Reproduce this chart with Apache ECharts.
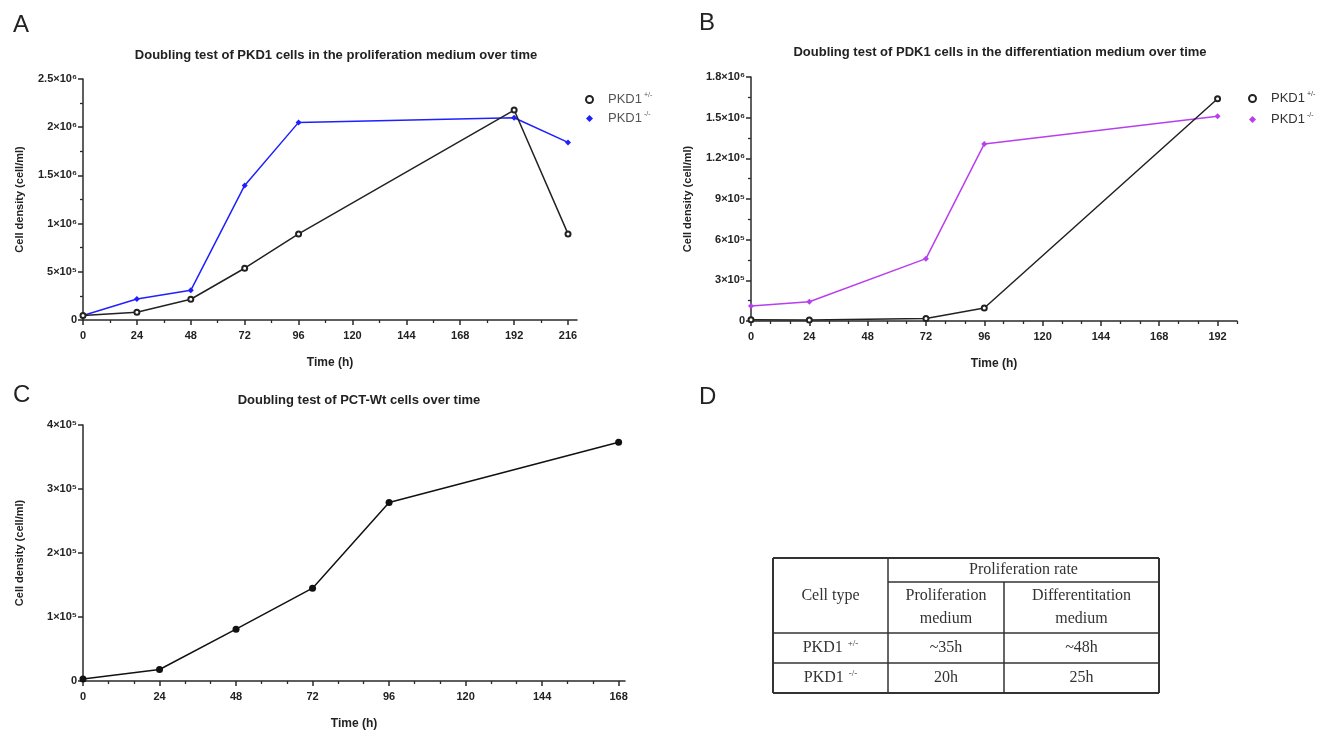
<!DOCTYPE html>
<html>
<head>
<meta charset="utf-8">
<script src="https://cdn.jsdelivr.net/npm/echarts@6/dist/echarts.min.js"></script>
<style>
html,body{margin:0;padding:0;background:#fff;}
#chart{width:1332px;height:731px;}
</style>
</head>
<body>
<div id="chart"></div>
<script>
// ---------------- DATA ----------------
// Panel A: proliferation medium
const timeA = [0, 24, 48, 72, 96, 192, 216];
const hetProlif = [46000, 80000, 215000, 537000, 893000, 2178000, 893000];
const nullProlif = [46000, 218000, 308000, 1396000, 2050000, 2098000, 1842000];
const xTicksA = [0, 24, 48, 72, 96, 120, 144, 168, 192, 216];
const yTicksA = [0, 500000, 1000000, 1500000, 2000000, 2500000];
const yLabelsA = ['0', '5×10⁵', '1×10⁶', '1.5×10⁶', '2×10⁶', '2.5×10⁶'];

// Panel B: differentiation medium
const timeB = [0, 24, 72, 96, 192];
const hetDiff = [10000, 7000, 19000, 96000, 1640000];
const nullDiff = [111000, 142000, 460000, 1306000, 1510000];
const xTicksB = [0, 24, 48, 72, 96, 120, 144, 168, 192];
const yTicksB = [0, 300000, 600000, 900000, 1200000, 1500000, 1800000];
const yLabelsB = ['0', '3×10⁵', '6×10⁵', '9×10⁵', '1.2×10⁶', '1.5×10⁶', '1.8×10⁶'];

// Panel C: PCT-Wt
const timeC = [0, 24, 48, 72, 96, 168];
const pctWt = [3000, 18000, 81000, 145000, 279000, 373000];
const xTicksC = [0, 24, 48, 72, 96, 120, 144, 168];
const yTicksC = [0, 100000, 200000, 300000, 400000];
const yLabelsC = ['0', '1×10⁵', '2×10⁵', '3×10⁵', '4×10⁵'];

// Panel D: table
const tableHeader = 'Proliferation rate';
const tableColHeads = ['Cell type', 'Proliferation\nmedium', 'Differentitation\nmedium'];
const tableRowNames = ['PKD1', 'PKD1'];
const tableRowSups = ['+/-', '-/-'];
const tableProlif = ['~35h', '20h'];
const tableDiff = ['~48h', '25h'];

const titles = [
  'Doubling test of PKD1 cells in the proliferation medium over time',
  'Doubling test of PDK1 cells in the differentiation medium over time',
  'Doubling test of PCT-Wt cells over time'
];
const panelLetters = ['A', 'B', 'C', 'D'];
const legendLabels = {'A_het': '+/-', 'A_null': '-/-', 'B_het': '+/-', 'B_null': '-/-'};

// ---------------- HELPERS ----------------
const FONT = 'Liberation Sans, Arial, sans-serif';
const AXIS_COLOR = '#2a2a2a';
function range(a, b, step) { const r = []; for (let v = a; v <= b + 1e-9; v += step) r.push(v); return r; }
function pairs(xs, ys) { return xs.map((x, i) => [x, ys[i]]); }

function mainX(grid, max, ticks) {
  return {
    type: 'value', gridIndex: grid, min: 0, max: max, position: 'bottom',
    name: 'Time (h)', nameLocation: 'middle', nameGap: 37,
    nameTextStyle: {fontFamily: FONT, fontWeight: 'bold', fontSize: 12, color: '#222'},
    axisLine: {show: true, onZero: false, lineStyle: {color: AXIS_COLOR, width: 1.5}},
    axisTick: {show: true, length: 5, customValues: ticks, lineStyle: {color: AXIS_COLOR, width: 1.5}},
    axisLabel: {customValues: ticks, margin: 10, fontFamily: FONT, fontWeight: 'bold', fontSize: 11, color: '#222'},
    splitLine: {show: false}
  };
}
function minorX(grid, max, minorVals) {
  return {
    type: 'value', gridIndex: grid, min: 0, max: max, position: 'bottom',
    axisLine: {show: false, onZero: false},
    axisTick: {show: true, length: 3, customValues: minorVals, lineStyle: {color: AXIS_COLOR, width: 1.3}},
    axisLabel: {show: false},
    splitLine: {show: false}
  };
}
function mainY(grid, max, interval, ticks, labels, minor) {
  return {
    type: 'value', gridIndex: grid, min: 0, max: max, interval: interval,
    name: 'Cell density (cell/ml)', nameLocation: 'middle', nameGap: 58, nameRotate: 90,
    nameTextStyle: {fontFamily: FONT, fontWeight: 'bold', fontSize: 11, color: '#222'},
    axisLine: {show: true, onZero: false, lineStyle: {color: AXIS_COLOR, width: 1.5}},
    axisTick: {show: true, length: 5, lineStyle: {color: AXIS_COLOR, width: 1.5}},
    minorTick: {show: minor, splitNumber: 2, length: 3, lineStyle: {color: AXIS_COLOR, width: 1.3}},
    axisLabel: {
      margin: 6, fontFamily: FONT, fontWeight: 'bold', fontSize: 11, color: '#222',
      formatter: function (v) { const i = ticks.indexOf(v); return i >= 0 ? labels[i] : ''; }
    },
    splitLine: {show: false}
  };
}

const minorA = range(12, 216, 24);
const minorB = range(0, 200, 8).filter(v => v % 24 !== 0);
const minorC = range(0, 170, 8).filter(v => v % 24 !== 0);

// ---------------- TABLE GRAPHICS ----------------
const tX = [773, 888, 1004, 1159];
const tY = [558, 582, 633, 663, 693];
const tableGraphics = [];
function hline(x1, x2, y, w) { tableGraphics.push({type: 'line', shape: {x1: x1, y1: y, x2: x2, y2: y}, style: {stroke: '#333', lineWidth: w || 1.5}}); }
function vline(x, y1, y2, w) { tableGraphics.push({type: 'line', shape: {x1: x, y1: y1, x2: x, y2: y2}, style: {stroke: '#333', lineWidth: w || 1.5}}); }
hline(tX[0], tX[3], tY[0], 2); hline(tX[0], tX[3], tY[4], 2);
vline(tX[0], tY[0], tY[4], 2); vline(tX[3], tY[0], tY[4], 2);
hline(tX[1], tX[3], tY[1]);
hline(tX[0], tX[3], tY[2]); hline(tX[0], tX[3], tY[3]);
vline(tX[1], tY[0], tY[4]); vline(tX[2], tY[1], tY[4]);
const SERIF = 'Liberation Serif, Times New Roman, serif';
function cellText(cx, cy, txt, rich) {
  tableGraphics.push({
    type: 'text', x: cx, y: cy,
    style: {text: txt, fontFamily: SERIF, fontSize: 16, fill: '#333', align: 'center', verticalAlign: 'middle', lineHeight: 23,
      rich: rich || undefined}
  });
}
const mid = (a, b) => (a + b) / 2;
cellText(mid(tX[1], tX[3]), mid(tY[0], tY[1]), tableHeader);
cellText(mid(tX[0], tX[1]), mid(tY[0], tY[2]), tableColHeads[0]);
cellText(mid(tX[1], tX[2]), mid(tY[1], tY[2]), tableColHeads[1]);
cellText(mid(tX[2], tX[3]), mid(tY[1], tY[2]), tableColHeads[2]);
const supRich = {
  n: {fontFamily: SERIF, fontSize: 16, fill: '#333', color: '#333'},
  s: {fontFamily: SERIF, fontSize: 9, fill: '#333', color: '#333', padding: [0, 0, 9, 5]}
};
for (let r = 0; r < 2; r++) {
  const y0 = tY[2 + r], y1 = tY[3 + r];
  cellText(mid(tX[0], tX[1]), mid(y0, y1), '{n|' + tableRowNames[r] + '}{s|' + tableRowSups[r] + '}', supRich);
  cellText(mid(tX[1], tX[2]), mid(y0, y1), tableProlif[r]);
  cellText(mid(tX[2], tX[3]), mid(y0, y1), tableDiff[r]);
}

// ---------------- OPTION ----------------
const letterPos = [[8, 8], [694, 6], [8, 378], [694, 380]];
const titleStyle = {fontFamily: FONT, fontWeight: 'bold', fontSize: 13, color: '#222'};
function legendRich(col) {
  return {
    b: {fontFamily: FONT, fontSize: 13, color: col, lineHeight: 15, padding: [0, 0, 0, 10]},
    s: {fontFamily: FONT, fontSize: 7, color: col, padding: [0, 0, 8, 2]}
  };
}

const option = {
  backgroundColor: '#fff',
  animation: false,
  title: [
    {text: titles[0], left: 331, top: 44, textAlign: 'center', textStyle: titleStyle},
    {text: titles[1], left: 995, top: 41, textAlign: 'center', textStyle: titleStyle},
    {text: titles[2], left: 354, top: 389, textAlign: 'center', textStyle: titleStyle}
  ].concat(panelLetters.map((l, i) => ({
    text: l, left: letterPos[i][0], top: letterPos[i][1],
    textStyle: {fontFamily: FONT, fontWeight: 'normal', fontSize: 24, color: '#222'}
  }))),
  grid: [
    {left: 83, top: 79, width: 494, height: 241},
    {left: 751, top: 77, width: 486, height: 244},
    {left: 83, top: 425, width: 542, height: 257}
  ],
  xAxis: [
    mainX(0, 220, xTicksA), minorX(0, 220, minorA),
    mainX(1, 200, xTicksB), minorX(1, 200, minorB),
    mainX(2, 170, xTicksC), minorX(2, 170, minorC)
  ],
  yAxis: [
    mainY(0, 2500000, 500000, yTicksA, yLabelsA, true),
    mainY(1, 1800000, 300000, yTicksB, yLabelsB, true),
    mainY(2, 400000, 100000, yTicksC, yLabelsC, false)
  ],
  legend: [
    {
      orient: 'vertical', left: 580, top: 87, itemGap: 5, itemWidth: 7, itemHeight: 7,
      data: [{name: 'A_het', icon: 'emptyCircle'}, {name: 'A_null', icon: 'diamond'}],
      formatter: n => '{b|PKD1}{s|' + legendLabels[n] + '}', textStyle: {rich: legendRich('#555')},
      selectedMode: false
    },
    {
      orient: 'vertical', left: 1243, top: 86, itemGap: 7, itemWidth: 7, itemHeight: 7,
      data: [{name: 'B_het', icon: 'emptyCircle'}, {name: 'B_null', icon: 'diamond'}],
      formatter: n => '{b|PKD1}{s|' + legendLabels[n] + '}', textStyle: {rich: legendRich('#333')},
      selectedMode: false
    }
  ],
  series: [
    {name: 'A_het', type: 'line', xAxisIndex: 0, yAxisIndex: 0, data: pairs(timeA, hetProlif),
      symbol: 'emptyCircle', symbolSize: 5, z: 3,
      itemStyle: {color: '#222', borderWidth: 1.2}, lineStyle: {color: '#222', width: 1.5}},
    {name: 'A_null', type: 'line', xAxisIndex: 0, yAxisIndex: 0, data: pairs(timeA, nullProlif),
      symbol: 'diamond', symbolSize: 6, z: 2,
      itemStyle: {color: '#2020ff'}, lineStyle: {color: '#2020ff', width: 1.5}},
    {name: 'B_het', type: 'line', xAxisIndex: 2, yAxisIndex: 1, data: pairs(timeB, hetDiff),
      symbol: 'emptyCircle', symbolSize: 5, z: 3,
      itemStyle: {color: '#222', borderWidth: 1.2}, lineStyle: {color: '#222', width: 1.5}},
    {name: 'B_null', type: 'line', xAxisIndex: 2, yAxisIndex: 1, data: pairs(timeB, nullDiff),
      symbol: 'diamond', symbolSize: 6, z: 2,
      itemStyle: {color: '#b83ff0'}, lineStyle: {color: '#b83ff0', width: 1.5}},
    {name: 'PCT-Wt', type: 'line', xAxisIndex: 4, yAxisIndex: 2, data: pairs(timeC, pctWt),
      symbol: 'circle', symbolSize: 7,
      itemStyle: {color: '#111'}, lineStyle: {color: '#111', width: 1.5}}
  ],
  graphic: tableGraphics
};

const chart = echarts.init(document.getElementById('chart'), null, {renderer: 'canvas'});
chart.setOption(option);
</script>
</body>
</html>
